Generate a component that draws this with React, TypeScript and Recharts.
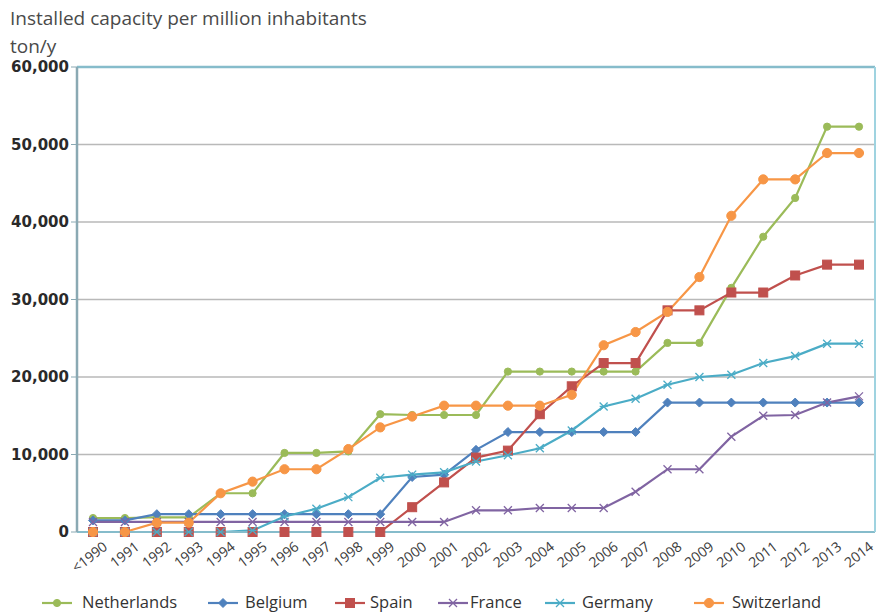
import React from "react";
import { LineChart, Line, XAxis, YAxis, CartesianGrid, ReferenceLine } from "recharts";

const categories = ["<1990","1991","1992","1993","1994","1995","1996","1997","1998","1999","2000","2001","2002","2003","2004","2005","2006","2007","2008","2009","2010","2011","2012","2013","2014"];
const netherlands = [1800,1800,1900,1900,5000,5000,10200,10200,10400,15200,15100,15100,15100,20700,20700,20700,20700,20700,24400,24400,31500,38100,43100,52300,52300];
const belgium = [1500,1500,2300,2300,2300,2300,2300,2300,2300,2300,7100,7400,10600,12900,12900,12900,12900,12900,16700,16700,16700,16700,16700,16700,16700];
const spain = [0,0,0,0,0,0,0,0,0,0,3200,6400,9600,10500,15200,18800,21800,21800,28600,28600,30900,30900,33100,34500,34500];
const france = [1300,1300,1300,1300,1300,1300,1300,1300,1300,1300,1300,1300,2800,2800,3100,3100,3100,5200,8100,8100,12300,15000,15100,16700,17500];
const germany = [0,0,0,0,0,200,2000,3000,4500,7000,7400,7700,9100,9900,10800,13100,16200,17200,19000,20000,20300,21800,22700,24300,24300];
const switzerland = [0,0,1200,1200,5000,6500,8100,8100,10700,13500,14900,16300,16300,16300,16300,17700,24100,25800,28400,32900,40800,45500,45500,48900,48900];
const yTicks = [0,10000,20000,30000,40000,50000,60000];

const data = categories.map((c, i) => ({
  year: c,
  Netherlands: netherlands[i],
  Belgium: belgium[i],
  Spain: spain[i],
  France: france[i],
  Germany: germany[i],
  Switzerland: switzerland[i],
}));

type Shape = "circleS" | "diamond" | "square" | "cross" | "star" | "circle";
const series: { key: string; color: string; shape: Shape; iconLeft: number; textLeft: number }[] = [
  { key: "Netherlands", color: "#9BBB59", shape: "circleS", iconLeft: 42, textLeft: 82 },
  { key: "Belgium", color: "#4F81BD", shape: "diamond", iconLeft: 208, textLeft: 245 },
  { key: "Spain", color: "#C0504D", shape: "square", iconLeft: 335, textLeft: 370 },
  { key: "France", color: "#8064A2", shape: "cross", iconLeft: 438, textLeft: 470 },
  { key: "Germany", color: "#4BACC6", shape: "star", iconLeft: 545, textLeft: 582 },
  { key: "Switzerland", color: "#F79646", shape: "circle", iconLeft: 694, textLeft: 732 },
];

const FONT = "'Open Sans', 'Noto Sans', sans-serif";

function marker(shape: Shape, color: string, cx: number, cy: number, key?: any) {
  switch (shape) {
    case "circleS":
      return <circle key={key} cx={cx} cy={cy} r={3.6} fill={color} stroke={color} strokeWidth={1} />;
    case "circle":
      return <circle key={key} cx={cx} cy={cy} r={4.6} fill={color} stroke={color} strokeWidth={1} />;
    case "square":
      return <rect key={key} x={cx - 4.5} y={cy - 4.5} width={9} height={9} fill={color} stroke={color} strokeWidth={1} />;
    case "diamond":
      return <polygon key={key} points={`${cx},${cy - 4.5} ${cx + 4.5},${cy} ${cx},${cy + 4.5} ${cx - 4.5},${cy}`} fill={color} stroke={color} strokeWidth={1} />;
    case "cross":
      return (
        <g key={key} stroke={color} strokeWidth={1.3}>
          <line x1={cx - 4} y1={cy - 4} x2={cx + 4} y2={cy + 4} />
          <line x1={cx - 4} y1={cy + 4} x2={cx + 4} y2={cy - 4} />
        </g>
      );
    case "star":
      return (
        <g key={key} stroke={color} strokeWidth={1.3}>
          <line x1={cx - 4} y1={cy - 4} x2={cx + 4} y2={cy + 4} />
          <line x1={cx - 4} y1={cy + 4} x2={cx + 4} y2={cy - 4} />
          <line x1={cx - 4} y1={cy} x2={cx + 4} y2={cy} />
        </g>
      );
  }
  return null;
}

const XTick = (props: any) => {
  const { x, y, payload } = props;
  const ax = x + 8;
  const ay = y + 7;
  return (
    <text
      x={ax}
      y={ay}
      transform={`rotate(-38 ${ax} ${ay})`}
      textAnchor="end"
      dominantBaseline="hanging"
      fontSize={14}
      fill="#3a3a3a"
      fontFamily={FONT}
    >
      {payload.value}
    </text>
  );
};

const fmt = (v: number) => v.toLocaleString("en-US");

export default function App() {
  return (
    <div style={{ position: "absolute", left: 0, top: 0, width: 877, height: 613, background: "#fff", fontFamily: FONT, overflow: "hidden" }}>
      <div style={{ position: "absolute", left: 10, top: 6, fontSize: 19, lineHeight: "24px", color: "#4a4a4a", whiteSpace: "nowrap" }}>
        Installed capacity per million inhabitants
      </div>
      <div style={{ position: "absolute", left: 10, top: 34, fontSize: 19, lineHeight: "24px", color: "#4a4a4a" }}>ton/y</div>
      <LineChart width={877} height={613} data={data} margin={{ top: 67, right: 0, bottom: 31, left: 0 }}>
        <CartesianGrid yAxisId="left" vertical={false} stroke="#b9b9b9" strokeWidth={1.5} />
        <XAxis
          dataKey="year"
          interval={0}
          padding={{ left: 16, right: 16 }}
          tick={<XTick />}
          tickLine={false}
          tickSize={0}
          tickMargin={0}
          height={50}
          axisLine={{ stroke: "#86bccb", strokeWidth: 2 }}
        />
        <YAxis
          yAxisId="left"
          width={77}
          domain={[0, 60000]}
          ticks={yTicks}
          tickFormatter={fmt}
          tick={{ fontSize: 15, fill: "#2a2a2a", fontWeight: 700, fontFamily: "'DejaVu Sans', sans-serif" }}
          tickLine={{ stroke: "#8aa9b3" }}
          tickSize={6}
          axisLine={{ stroke: "#8aa9b3", strokeWidth: 2.5 }}
        />
        <YAxis
          yAxisId="right"
          orientation="right"
          width={2}
          domain={[0, 60000]}
          tick={false}
          tickLine={false}
          axisLine={{ stroke: "#9fd3e0", strokeWidth: 2 }}
        />
        <ReferenceLine yAxisId="left" y={60000} stroke="#86bccb" strokeWidth={2.5} />
        {series.map((s) => (
          <Line
            key={s.key}
            yAxisId="left"
            type="linear"
            dataKey={s.key}
            stroke={s.color}
            strokeWidth={2.2}
            isAnimationActive={false}
            dot={(p: any) => (p.cx == null || p.cy == null ? <g key={p.index} /> : marker(s.shape, s.color, p.cx, p.cy, p.index))}
            activeDot={false}
          />
        ))}
      </LineChart>
      {series.map((s) => (
        <React.Fragment key={s.key}>
          <svg width={30} height={14} style={{ position: "absolute", left: s.iconLeft, top: 596 }}>
            <line x1={0} y1={7} x2={30} y2={7} stroke={s.color} strokeWidth={2.2} />
            {marker(s.shape, s.color, 15, 7)}
          </svg>
          <span style={{ position: "absolute", left: s.textLeft, top: 590, fontSize: 16.5, lineHeight: "24px", color: "#333", whiteSpace: "nowrap" }}>{s.key}</span>
        </React.Fragment>
      ))}
    </div>
  );
}
